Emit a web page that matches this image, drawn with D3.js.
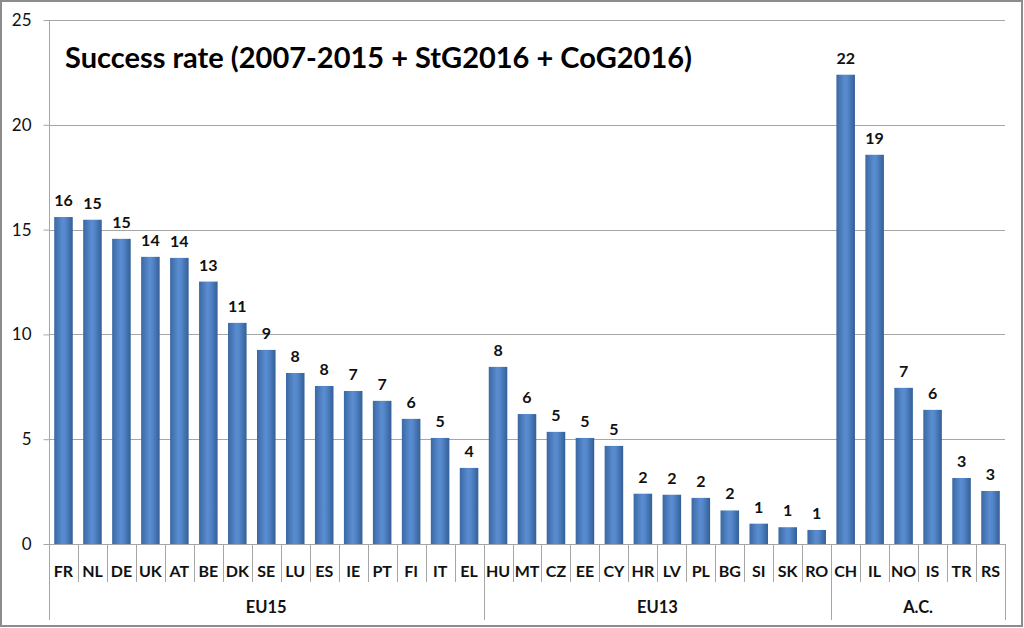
<!DOCTYPE html>
<html><head><meta charset="utf-8">
<script src="https://cdn.jsdelivr.net/npm/d3@7"></script>
<style>
html,body{margin:0;padding:0;background:#fff;}
svg{display:block;}
text{font-family:Lato,"Open Sans",sans-serif;}
</style></head>
<body><svg id="c" width="1024" height="628"></svg>
<script>
const categories = ["FR","NL","DE","UK","AT","BE","DK","SE","LU","ES","IE","PT","FI","IT","EL",
  "HU","MT","CZ","EE","CY","HR","LV","PL","BG","SI","SK","RO",
  "CH","IL","NO","IS","TR","RS"];
const values = [15.6,15.47,14.56,13.7,13.65,12.52,10.55,9.26,8.16,7.54,7.3,6.83,5.97,5.06,3.63,
  8.45,6.2,5.35,5.06,4.68,2.4,2.35,2.2,1.6,0.97,0.8,0.67,
  22.39,18.57,7.45,6.4,3.15,2.53];
const groups = [{name:"EU15", start:0, count:15},{name:"EU13", start:15, count:12},{name:"A.C.", start:27, count:6}];
const yTicks = [0,5,10,15,20,25];
const title = "Success rate (2007-2015 + StG2016 + CoG2016)";

const svg = d3.select("#c");
const L = 49, R = 1005, T = 20, B = 544;
const x = d3.scaleBand().domain(categories).range([L, R]).paddingInner(0.36).paddingOuter(0.18);
const y = d3.scaleLinear().domain([0,25]).range([B, T]);

// frame
svg.append("rect").attr("x",1).attr("y",1).attr("width",1021).attr("height",625)
  .attr("fill","#fff").attr("stroke","#8c8c8c").attr("stroke-width",2);

const defs = svg.append("defs");
const g = defs.append("linearGradient").attr("id","bar").attr("x1","0").attr("x2","1").attr("y1","0").attr("y2","0");
g.append("stop").attr("offset","0").attr("stop-color","#3a68a3");
g.append("stop").attr("offset","0.45").attr("stop-color","#5a8cd0");
g.append("stop").attr("offset","0.6").attr("stop-color","#5487cb");
g.append("stop").attr("offset","1").attr("stop-color","#335f96");

// gridlines
svg.append("g").selectAll("line").data(yTicks.filter(d=>d>0)).join("line")
  .attr("x1",L).attr("x2",R).attr("y1",d=>Math.round(y(d))+0.5).attr("y2",d=>Math.round(y(d))+0.5)
  .attr("stroke","#a6a6a6").attr("stroke-width",1);

// y axis
const ya = svg.append("g").attr("transform",`translate(${L+0.5},0)`)
  .call(d3.axisLeft(y).tickValues(yTicks).tickSize(6).tickPadding(12));
ya.select(".domain").remove();
ya.selectAll(".tick line").attr("stroke","#a6a6a6");
ya.selectAll(".tick text").attr("font-size",17).attr("fill","#111").style("font-family","Lato,sans-serif");
svg.append("line").attr("x1",L+0.5).attr("x2",L+0.5).attr("y1",T).attr("y2",620).attr("stroke","#a6a6a6");

// baseline
svg.append("line").attr("x1",L).attr("x2",R).attr("y1",B+0.5).attr("y2",B+0.5).attr("stroke","#a6a6a6");

// category separators
const groupBounds = new Set(groups.slice(1).map(gr=>gr.start));
svg.append("g").selectAll("line").data(d3.range(1,categories.length)).join("line")
  .attr("x1",i=>Math.round(L+(R-L)*i/categories.length)+0.5)
  .attr("x2",i=>Math.round(L+(R-L)*i/categories.length)+0.5)
  .attr("y1",B).attr("y2",i=>groupBounds.has(i)?620:582)
  .attr("stroke","#a6a6a6");
svg.append("line").attr("x1",R+0.5).attr("x2",R+0.5).attr("y1",B).attr("y2",620).attr("stroke","#a6a6a6");

// bars
svg.append("g").selectAll("rect").data(values).join("rect")
  .attr("x",(d,i)=>x(categories[i])).attr("width",x.bandwidth())
  .attr("y",d=>y(d)).attr("height",d=>B-y(d)).attr("fill","url(#bar)");

// value labels
svg.append("g").selectAll("text").data(values).join("text")
  .attr("x",(d,i)=>x(categories[i])+x.bandwidth()/2).attr("y",d=>y(d)-11)
  .attr("text-anchor","middle").attr("font-size",16).attr("font-weight","bold").attr("fill","#111")
  .text(d=>Math.round(d));

// category labels
svg.append("g").selectAll("text").data(categories).join("text")
  .attr("x",d=>x(d)+x.bandwidth()/2).attr("y",577)
  .attr("text-anchor","middle").attr("font-size",16).attr("font-weight","bold").attr("fill","#111")
  .text(d=>d);

// group labels
svg.append("g").selectAll("text").data(groups).join("text")
  .attr("x",gr=>L+(R-L)*(gr.start+gr.count/2)/categories.length).attr("y",613)
  .attr("text-anchor","middle").attr("font-size",16.5).attr("font-weight","bold").attr("fill","#111")
  .text(gr=>gr.name);

// title
svg.append("text").attr("x",65).attr("y",68).attr("font-size",29).attr("font-weight","bold").attr("fill","#000")
  .attr("textLength",627).attr("lengthAdjust","spacingAndGlyphs").text(title);
</script></body></html>
